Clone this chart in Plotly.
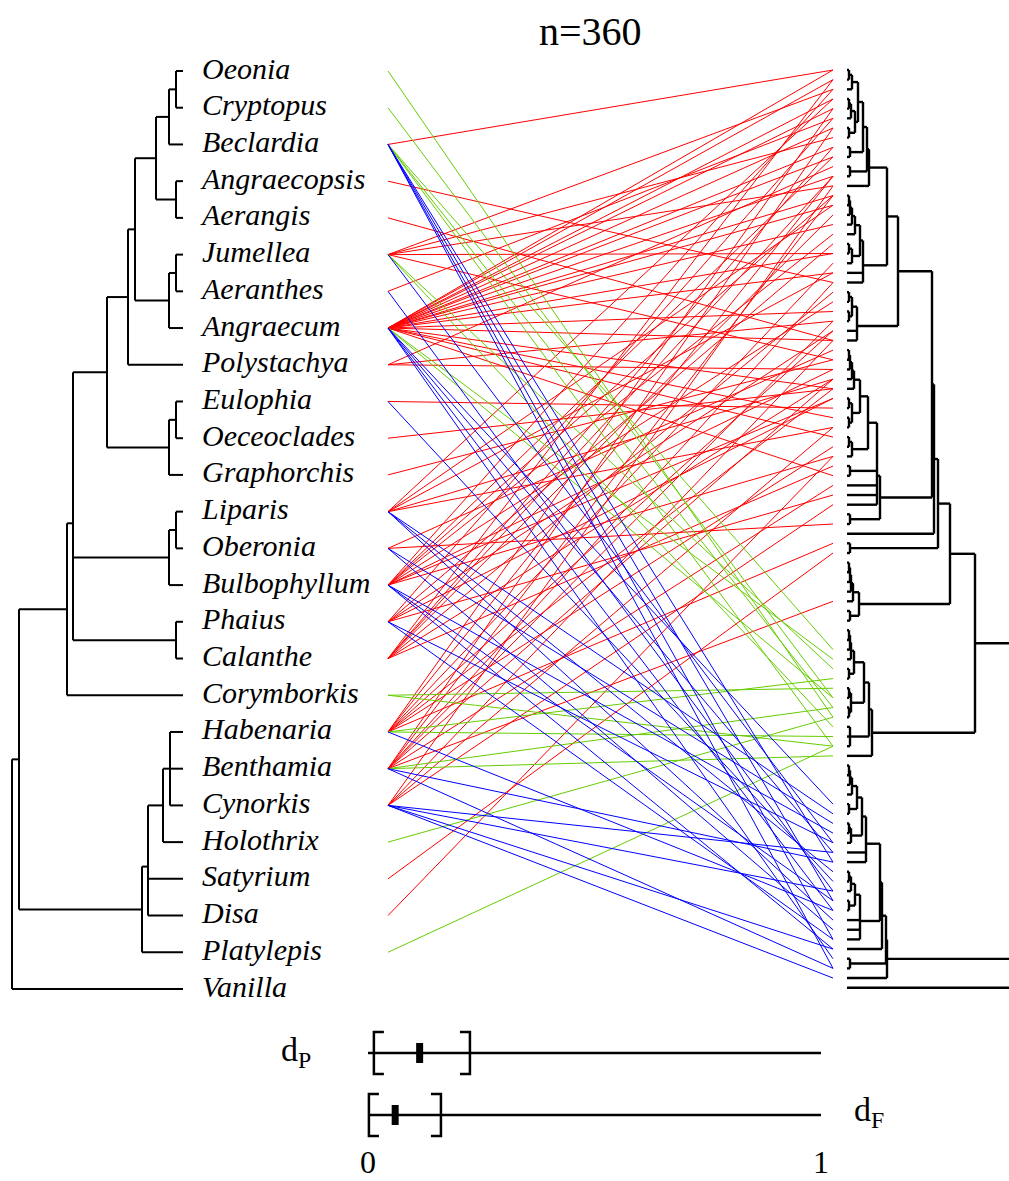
import re
import plotly.graph_objects as go

# ---- data -------------------------------------------------------------
TITLE = "n=360"

# orchid genera phylogeny (branch lengths)
ORCHID_TREE = (
    "((((((((((Oeonia:7,Cryptopus:7):7,Beclardia:14):13,(Angraecopsis:7,Aerangis:7):20):21,"
    "((Jumellea:7,Aeranthes:7):7,Angraecum:14):34):7,Polystachya:55):21,"
    "((Eulophia:7,Oeceoclades:7):7,Graphorchis:14):62):34,"
    "((Liparis:7,Oberonia:7):7,Bulbophyllum:14):96,(Phaius:7,Calanthe:7):103):6,Corymborkis:116):48,"
    "((((Habenaria:13,Benthamia:13,Cynorkis:13):7,Holothrix:20):15,Satyrium:35,Disa:35):6,Platylepis:41):123):7,"
    "Vanilla:171);"
)

# fungal OTU tree, internal labels = node heights
CLADE_A = "((((((t,t)2,t)5,(((t,t)2,t)4,(t,t)2)8)11,(t,t)3)16,(t,t)3)20,t)22"
CLADE_B = "((((((t,t)2,t)3,t)5,t)8,((t,t)2,t)5)13,t,t)16"
CLADE_C = "(((t,t)2,(t,t)2)5,t,t)10"
CLADE_D = "((((((((t,t)2,t)3,t)5,t)7,((t,t)2,(t,t)2)5)13,((t,t)2,t)5)21,(t,t)3,t,t,t)30,(t,t)3)33"
CLADE_E = "(((((t,t)2,t)3,t)4,t)6,(t,t)3)12"
CLADE_F = "(((((((t,t)2,t)3,t)4,(t,t)2)7,((t,t)2,(t,t)2)4)17,(t,t,t)3)22,t)25"
CLADE_G = ("((((((((((t,t)2,t)3,t)5,(t,t)2)10,((t,t)2,t)4)15,t,t)19,"
           "((((t,t)2,t)4,(t,t)2)8,t,t,t)13)33,t)35,(t,t)3)39,t)40")
FUNGAL_TREE = ("(((((((((" + CLADE_A + "," + CLADE_B + ")40," + CLADE_C + ")51," + CLADE_D + ")85,t)87,"
               "(t,t)3)91," + CLADE_E + ")103," + CLADE_F + ")128," + CLADE_G + ")175,t)190;")

# links: orchid genus -> fungal tip indices (top to bottom)
RED_LINKS = {
    "Beclardia": [0],
    "Angraecopsis": [22],
    "Aerangis": [28],
    "Jumellea": [2, 7, 12, 19, 30],
    "Aeranthes": [5],
    "Angraecum": [0, 1, 3, 4, 6, 8, 9, 11, 13, 14, 16, 19, 21, 25, 28, 33, 36, 38, 42],
    "Polystachya": [10, 26, 31],
    "Eulophia": [35],
    "Oeceoclades": [33],
    "Graphorchis": [30],
    "Liparis": [3, 14, 21, 32, 37],
    "Oberonia": [29, 47],
    "Bulbophyllum": [2, 9, 13, 17, 24, 31, 34, 40],
    "Phaius": [5, 18, 27, 34, 44],
    "Calanthe": [1, 8, 11, 15, 23, 32, 41],
    "Habenaria": [4, 11, 20, 27, 33, 39, 49],
    "Benthamia": [6, 13, 22, 26, 32, 43, 55],
    "Cynorkis": [12, 28, 37, 45],
    "Satyrium": [50],
    "Disa": [40],
}
GREEN_LINKS = {
    "Oeonia": [67],
    "Cryptopus": [65],
    "Beclardia": [60, 66, 70],
    "Jumellea": [62, 68],
    "Angraecum": [61, 65],
    "Corymborkis": [64, 70],
    "Habenaria": [63, 69],
    "Benthamia": [66, 71],
    "Holothrix": [67],
    "Platylepis": [70],
}
BLUE_LINKS = {
    "Beclardia": [82, 86, 90, 93],
    "Jumellea": [80],
    "Aeranthes": [85],
    "Angraecum": [76, 81, 87, 92],
    "Eulophia": [84],
    "Liparis": [77, 83, 88],
    "Oberonia": [78, 89],
    "Bulbophyllum": [79, 86, 91],
    "Phaius": [80, 90],
    "Habenaria": [87],
    "Benthamia": [82, 93],
    "Cynorkis": [81, 85, 91, 94],
}

# congruence statistics (low, median, high) on [0, 1]
D_P = [0.013, 0.114, 0.225]
D_F = [0.002, 0.060, 0.161]


# ---- helpers ----------------------------------------------------------
def parse_newick(s):
    s = s.strip().rstrip(";")
    pos = 0

    def node():
        nonlocal pos
        kids = []
        if s[pos] == "(":
            pos += 1
            kids.append(node())
            while s[pos] == ",":
                pos += 1
                kids.append(node())
            pos += 1
        label = re.match(r"[^,():;]*", s[pos:]).group(0)
        pos += len(label)
        length = 0.0
        if pos < len(s) and s[pos] == ":":
            m = re.match(r":([0-9.]+)", s[pos:])
            length = float(m.group(1))
            pos += len(m.group(0))
        return {"label": label, "len": length, "kids": kids}

    return node()


def layout_tree(root, tip_y, xfun):
    tips = []

    def walk(n, depth):
        d = depth + n["len"]
        n["x"] = xfun(n, d)
        if not n["kids"]:
            n["y"] = tip_y(len(tips))
            tips.append(n)
        else:
            for k in n["kids"]:
                walk(k, d)
            n["y"] = sum(k["y"] for k in n["kids"]) / len(n["kids"])

    walk(root, 0.0)
    return tips


def tree_segments(root):
    xs, ys = [], []

    def walk(n):
        if n["kids"]:
            yy = [k["y"] for k in n["kids"]]
            xs.extend([n["x"], n["x"], None])
            ys.extend([min(yy), max(yy), None])
            for k in n["kids"]:
                xs.extend([n["x"], k["x"], None])
                ys.extend([k["y"], k["y"], None])
                walk(k)

    walk(root)
    return xs, ys


# ---- positions (figure pixels) ----------------------------------------
W, H = 1009, 1181
L_ROOT, L_TIP, L_Y0, L_DY = 12, 183, 71, 36.72
R_TIP, R_Y0, R_DY = 847, 70, 9.66
LINK_L, LINK_R = 388, 833
AX0, AX1 = 368, 821

orchid = parse_newick(ORCHID_TREE)
orchid_tips = layout_tree(orchid, lambda i: L_Y0 + i * L_DY,
                          lambda n, d: L_ROOT + d * (L_TIP - L_ROOT) / 171.0)
fungal = parse_newick(FUNGAL_TREE)
fungal_tips = layout_tree(fungal, lambda i: R_Y0 + i * R_DY,
                          lambda n, d: R_TIP + (float(n["label"]) if n["kids"] else 0.0))
orchid_y = {t["label"]: t["y"] for t in orchid_tips}
fungal_y = [t["y"] for t in fungal_tips]

fig = go.Figure()

# links
for links, col in [(RED_LINKS, "#FF0000"), (GREEN_LINKS, "#66CD00"), (BLUE_LINKS, "#0000FF")]:
    xs, ys = [], []
    for name, idx in links.items():
        for i in idx:
            xs.extend([LINK_L, LINK_R, None])
            ys.extend([orchid_y[name], fungal_y[i], None])
    fig.add_trace(go.Scatter(x=xs, y=ys, mode="lines", line=dict(color=col, width=1),
                             hoverinfo="skip"))

# trees
for tree, lw in [(orchid, 2), (fungal, 2.4)]:
    xs, ys = tree_segments(tree)
    fig.add_trace(go.Scatter(x=xs, y=ys, mode="lines", line=dict(color="black", width=lw),
                             hoverinfo="skip"))

# tip labels
fig.add_trace(go.Scatter(
    x=[L_TIP + 19] * len(orchid_tips),
    y=[t["y"] for t in orchid_tips],
    text=["<i>%s</i>" % t["label"] for t in orchid_tips],
    mode="text", textposition="middle right",
    textfont=dict(family="Liberation Serif", size=30, color="black"),
    hoverinfo="skip"))

# congruence intervals
for vals, yc in [(D_P, 1053), (D_F, 1115)]:
    lo, med, hi = [AX0 + v * (AX1 - AX0) for v in vals]
    fig.add_trace(go.Scatter(x=[AX0, AX1], y=[yc, yc], mode="lines",
                             line=dict(color="black", width=2.5), hoverinfo="skip"))
    fig.add_trace(go.Scatter(
        x=[lo + 10, lo, lo, lo + 10, None, hi - 10, hi, hi, hi - 10],
        y=[yc - 21, yc - 21, yc + 21, yc + 21, None, yc - 21, yc - 21, yc + 21, yc + 21],
        mode="lines", line=dict(color="black", width=2.5), hoverinfo="skip"))
    fig.add_trace(go.Scatter(x=[med, med], y=[yc - 10, yc + 10], mode="lines",
                             line=dict(color="black", width=7), hoverinfo="skip"))

serif = dict(family="Liberation Serif", color="black")
ann = [
    dict(x=590, y=31, text=TITLE, font=dict(size=40, **serif)),
    dict(x=296, y=1052, text="d<sub>P</sub>", font=dict(size=34, **serif)),
    dict(x=869, y=1112, text="d<sub>F</sub>", font=dict(size=34, **serif)),
    dict(x=AX0 + 0 * (AX1 - AX0), y=1162, text="0", font=dict(size=32, **serif)),
    dict(x=AX0 + 1 * (AX1 - AX0), y=1162, text="1", font=dict(size=32, **serif)),
]
for a in ann:
    fig.add_annotation(xref="x", yref="y", showarrow=False, **a)

fig.update_layout(
    width=W, height=H,
    margin=dict(l=0, r=0, t=0, b=0),
    plot_bgcolor="white", paper_bgcolor="white",
    showlegend=False,
    xaxis=dict(range=[0, W], visible=False, fixedrange=True),
    yaxis=dict(range=[H, 0], visible=False, fixedrange=True),
)
fig.write_html("out.html", config={"displayModeBar": False},
               post_script="document.body.style.margin='0px';")
